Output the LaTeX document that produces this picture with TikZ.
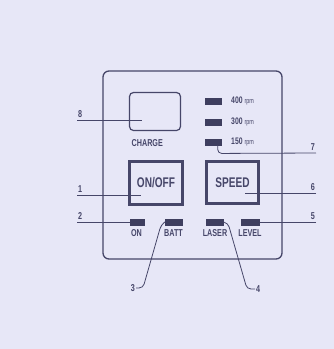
\documentclass[tikz,border=0pt]{standalone}
\usepackage{xcolor}
\usepackage{fontspec}
\newfontfamily\panelfont[FakeStretch=0.72]{Liberation Sans}
\usepackage{tikz}
\usetikzlibrary{arrows.meta,positioning,calc}

\definecolor{paper}{RGB}{231,231,247}
\definecolor{ink}{RGB}{70,70,105}
\definecolor{ledink}{RGB}{62,62,95}

\begin{document}
\begin{tikzpicture}[
    x=1pt, y=-1pt,
    panel/.style={draw=ink, line width=1.3pt, rounded corners=6pt},
    display/.style={draw=ink, line width=1.2pt, rounded corners=4pt},
    button/.style={draw=ink, line width=3pt, align=center,
                   font=\panelfont\bfseries\fontsize{14}{14}\selectfont, text=ink},
    led/.style={fill=ledink, draw=ledink, line width=0.4pt, minimum width=16pt,
                minimum height=6.5pt, inner sep=0pt},
    caption/.style={font=\panelfont\bfseries\fontsize{10}{10}\selectfont, text=ink, inner sep=0pt},
    rpmtext/.style={font=\panelfont\bfseries\fontsize{9.5}{10}\selectfont, text=ink, inner sep=0pt, anchor=west},
    num/.style={font=\panelfont\bfseries\fontsize{10}{10}\selectfont, text=ink,
                inner xsep=1pt, inner ysep=2.5pt},
    leader/.style={draw=ink, line width=0.8pt, rounded corners=4pt}
]

% --- Page ---
\useasboundingbox (0,0) rectangle (334,349);
\fill[paper] (0,0) rectangle (334,349);

% --- Panel and display ---
\node[panel, minimum width=179pt, minimum height=188pt] (panel) at (192.5,165) {};
\node[display, minimum width=51pt, minimum height=38pt] (display) at (155,111.5) {};
\node[caption, anchor=west] (charge) at (131.5,143) {CHARGE};

% --- Buttons ---
\node[button, minimum width=53pt, minimum height=43pt] (onoff) at (156,183) {ON/OFF};
\node[button, minimum width=52pt, minimum height=42pt] (speed) at (232.5,182.5) {SPEED};

% --- Speed LEDs ---
\node[led] (led400) at (213.5,101) {};
\node[led] (led300) at (213.5,122) {};
\node[led] (led150) at (213.5,142) {};
\node[rpmtext] at (231,101) {400 {\mdseries\fontsize{7.5}{8}\selectfont rpm}};
\node[rpmtext] at (231,122) {300 {\mdseries\fontsize{7.5}{8}\selectfont rpm}};
\node[rpmtext] at (231,142) {150 {\mdseries\fontsize{7.5}{8}\selectfont rpm}};

% --- Status LEDs ---
\node[led, minimum width=14pt] (ledon)    at (137.5,222) {};
\node[led, minimum width=17pt] (ledbatt)  at (173.5,222) {};
\node[led, minimum width=17pt] (ledlaser) at (214.5,222) {};
\node[led, minimum width=18pt] (ledlevel) at (250.5,222) {};
\node[caption] at (136.5,233) {ON};
\node[caption] at (173.5,233) {BATT};
\node[caption] at (215,233) {LASER};
\node[caption] at (250,233) {LEVEL};

% --- Callout numbers ---
\node[num, anchor=south west] (n8) at (77,120) {8};
\node[num, anchor=south west] (n1) at (77,195) {1};
\node[num, anchor=south west] (n2) at (77,222) {2};
\node[num, anchor=east] (n3) at (136,288) {3};
\node[num, anchor=west] (n4) at (255,289) {4};
\node[num, anchor=south east] (n5) at (316,222) {5};
\node[num, anchor=south east] (n6) at (316,193) {6};
\node[num, anchor=south east] (n7) at (316,153) {7};

\coordinate (c8) at (142,120);
\coordinate (c1) at (141,195);
\coordinate (c6) at (245,193);

% --- Leader lines ---
\draw[leader] (n8.south west) -- (c8);
\draw[leader] (n1.south west) -- (c1);
\draw[leader] (n2.south west) -- (ledon.west);
\draw[leader] (n6.south east) -- (c6);
\draw[leader] (n5.south east) -- (ledlevel.east);
\draw[leader] (led150.south east) ++(-4,0) -- ++(0,8) -- (n7.south east);
\draw[leader] (n3.east) -- ++(7,0) -- (161,225) -- (ledbatt.west);
\draw[leader] (ledlaser.east) -- (228,223) -- (247,289) -- (n4.west);

\end{tikzpicture}
\end{document}
